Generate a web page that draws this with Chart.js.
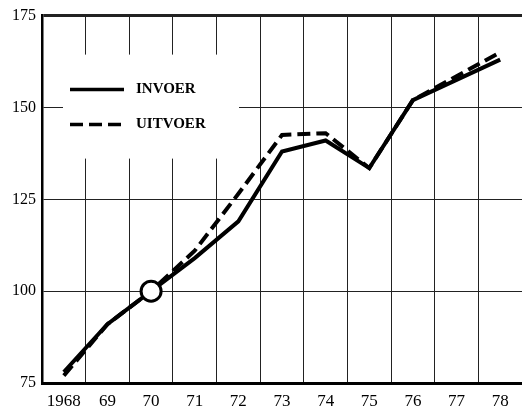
<!DOCTYPE html>
<html>
<head>
<meta charset="utf-8">
<script src="https://cdn.jsdelivr.net/npm/chart.js@4"></script>
<style>
  html, body { margin: 0; padding: 0; background: #fff; }
  #wrap { width: 522px; height: 411px; }
</style>
</head>
<body>
<div id="wrap"><canvas id="c" width="522" height="411"></canvas></div>
<script>
// Index of Dutch import and export volumes, 1970 = 100
const years = ['1968', '69', '70', '71', '72', '73', '74', '75', '76', '77', '78'];
const invoer = [78, 91, 100, 109, 119, 138, 141, 133.5, 152, 157.5, 163];
const uitvoer = [77, 91, 100, 111, 126.5, 142.5, 143, 133.5, 152, 158.5, 165];
const yTicks = [75, 100, 125, 150, 175];
const baseIndex = 2; // the base year 1970 gets a ring marker

const serif = "'Liberation Serif', 'DejaVu Serif', serif";

// White panel holding the key, drawn over the grid but under the lines
const keyPanel = {
  id: 'keyPanel',
  beforeDatasetsDraw(chart) {
    const { ctx, chartArea: a } = chart;
    const x0 = a.left + 21, y0 = a.top + 39;
    ctx.save();
    ctx.fillStyle = '#fff';
    ctx.fillRect(x0, y0, 176, 104);
    ctx.strokeStyle = '#000';
    ctx.lineWidth = 3.5;
    ctx.lineCap = 'butt';
    // solid sample
    ctx.beginPath();
    ctx.moveTo(x0 + 7, y0 + 35);
    ctx.lineTo(x0 + 61, y0 + 35);
    ctx.stroke();
    // dashed sample
    ctx.setLineDash([13, 6]);
    ctx.beginPath();
    ctx.moveTo(x0 + 7, y0 + 70);
    ctx.lineTo(x0 + 60, y0 + 70);
    ctx.stroke();
    ctx.setLineDash([]);
    ctx.fillStyle = '#000';
    ctx.font = 'bold 15px ' + serif;
    ctx.textBaseline = 'middle';
    ctx.textAlign = 'left';
    ctx.fillText('INVOER', x0 + 73, y0 + 35);
    ctx.fillText('UITVOER', x0 + 73, y0 + 70);
    ctx.restore();
  }
};

new Chart(document.getElementById('c'), {
  type: 'line',
  data: {
    labels: years,
    datasets: [
      {
        label: 'INVOER',
        data: invoer,
        borderColor: '#000',
        borderWidth: 4,
        tension: 0,
        order: 0,
        pointRadius: (c) => (c.dataIndex === baseIndex ? 10 : 0),
        pointBackgroundColor: '#fff',
        pointBorderColor: '#000',
        pointBorderWidth: 3
      },
      {
        label: 'UITVOER',
        data: uitvoer,
        borderColor: '#000',
        borderWidth: 4,
        borderDash: [13, 6],
        tension: 0,
        order: 1,
        pointRadius: 0
      }
    ]
  },
  options: {
    responsive: false,
    animation: false,
    layout: { padding: { top: 15, right: 0, left: 0, bottom: 0 } },
    plugins: { legend: { display: false }, tooltip: { enabled: false } },
    scales: {
      x: {
        type: 'category',
        offset: true,
        grid: {
          offset: true,
          drawTicks: false,
          color: (c) => (c.index === 0 ? 'rgba(0,0,0,0)' : '#222'),
          lineWidth: 1
        },
        border: { display: true, color: '#000', width: 3 },
        ticks: {
          color: '#000',
          font: { family: serif, size: 17 },
          padding: 8,
          maxRotation: 0,
          autoSkip: false
        },
        afterFit: (s) => { s.height = 28; }
      },
      y: {
        min: 75,
        max: 175,
        afterBuildTicks: (s) => { s.ticks = yTicks.map((v) => ({ value: v })); },
        grid: {
          drawTicks: false,
          color: (c) => (c.tick && c.tick.value === 75 ? 'rgba(0,0,0,0)' : '#222'),
          lineWidth: (c) => (c.tick && c.tick.value === 175 ? 3 : 1)
        },
        border: { display: true, color: '#000', width: 2.5 },
        ticks: {
          color: '#000',
          font: { family: serif, size: 16 },
          padding: 6
        },
        afterFit: (s) => { s.width = 42; }
      }
    }
  },
  plugins: [keyPanel]
});
</script>
</body>
</html>
